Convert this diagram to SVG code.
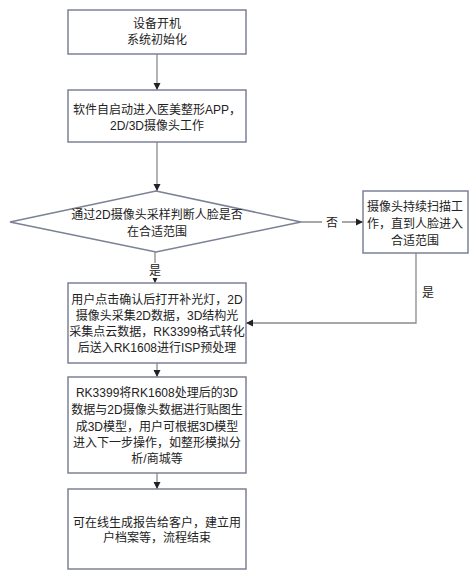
<svg xmlns="http://www.w3.org/2000/svg" width="475" height="581" viewBox="0 0 475 581">
<defs>
<marker id="arr" markerWidth="8" markerHeight="8" refX="7" refY="4" orient="auto" markerUnits="userSpaceOnUse">
<path d="M0,0.5 L7,4 L0,7.5 Z" fill="#222"/>
</marker>
<style>
.box{fill:#fff;stroke:#7c8196;stroke-width:1.5}
.ln{fill:none;stroke:#8a8a8a;stroke-width:1.3}
.t{font-family:"Liberation Sans","Noto Sans CJK SC",sans-serif;font-size:12px;fill:#222;text-anchor:middle}
</style>
</defs>
<rect width="475" height="581" fill="#fff"/>
<g id="connectors">
<line class="ln" x1="157" y1="54" x2="157" y2="90" marker-end="url(#arr)"/>
<line class="ln" x1="157" y1="142" x2="157" y2="191" marker-end="url(#arr)"/>
<line class="ln" x1="301" y1="222" x2="363" y2="222" marker-end="url(#arr)"/>
<polyline class="ln" points="416,253 416,323 246,323" marker-end="url(#arr)"/>
<line class="ln" x1="155" y1="252" x2="155" y2="283" marker-end="url(#arr)"/>
<line class="ln" x1="157" y1="363" x2="157" y2="377" marker-end="url(#arr)"/>
<line class="ln" x1="157" y1="473" x2="157" y2="489" marker-end="url(#arr)"/>
<rect x="322" y="215" width="20" height="15" fill="#fff"/>
<text class="t" x="332" y="227">否</text>
<rect x="145" y="263" width="20" height="15" fill="#fff"/>
<text class="t" x="155" y="275">是</text>
<text class="t" x="428" y="297">是</text>
</g>
<g id="n1">
<rect class="box" x="68" y="10" width="178" height="44"/>
<text class="t" x="157" y="28">设备开机</text>
<text class="t" x="157" y="44">系统初始化</text>
</g>
<g id="n2">
<rect class="box" x="68" y="90" width="178" height="52"/>
<text class="t" x="157" y="114">软件自启动进入医美整形APP，</text>
<text class="t" x="157" y="130">2D/3D摄像头工作</text>
</g>
<g id="n3">
<polygon class="box" points="156,191 301,222 156,252 10,222"/>
<text class="t" x="157" y="219">通过2D摄像头采样判断人脸是否</text>
<text class="t" x="157" y="236">在合适范围</text>
</g>
<g id="n4">
<rect class="box" x="363" y="191" width="105" height="62"/>
<text class="t" x="415" y="211">摄像头持续扫描工</text>
<text class="t" x="415" y="228">作，直到人脸进入</text>
<text class="t" x="415" y="245">合适范围</text>
</g>
<g id="n5">
<rect class="box" x="68" y="283" width="178" height="80"/>
<text class="t" x="157" y="304">用户点击确认后打开补光灯，2D</text>
<text class="t" x="157" y="320">摄像头采集2D数据，3D结构光</text>
<text class="t" x="157" y="336">采集点云数据，RK3399格式转化</text>
<text class="t" x="157" y="352">后送入RK1608进行ISP预处理</text>
</g>
<g id="n6">
<rect class="box" x="68" y="377" width="178" height="96"/>
<text class="t" x="157" y="397">RK3399将RK1608处理后的3D</text>
<text class="t" x="157" y="414">数据与2D摄像头数据进行贴图生</text>
<text class="t" x="157" y="431">成3D模型，用户可根据3D模型</text>
<text class="t" x="157" y="447">进入下一步操作，如整形模拟分</text>
<text class="t" x="157" y="463">析/商城等</text>
</g>
<g id="n7">
<rect class="box" x="68" y="489" width="178" height="80"/>
<text class="t" x="157" y="527">可在线生成报告给客户，建立用</text>
<text class="t" x="157" y="542">户档案等，流程结束</text>
</g>
</svg>
